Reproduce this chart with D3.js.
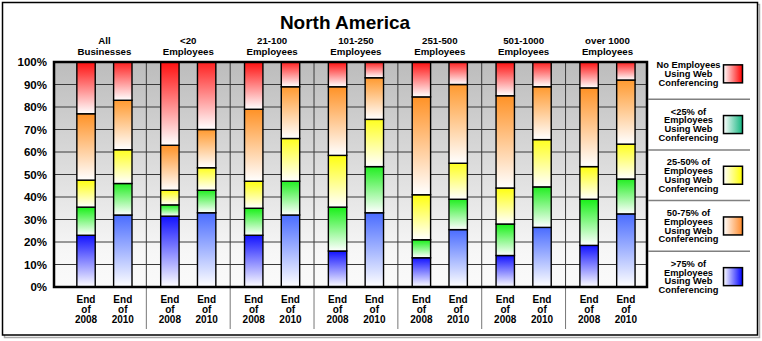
<!DOCTYPE html>
<html><head><meta charset="utf-8">
<script src="https://cdn.jsdelivr.net/npm/d3@7"></script>
<style>
html,body{margin:0;padding:0;background:#fff;}
svg text{font-family:Arial,"Liberation Sans",sans-serif;font-weight:bold;fill:#000;}
</style></head>
<body><svg id="c" width="762" height="341"></svg>
<script>
// ---- data ----
const categories = [["All","Businesses"],["<20","Employees"],["21-100","Employees"],["101-250","Employees"],["251-500","Employees"],["501-1000","Employees"],["over 1000","Employees"]];
const years = ["End of 2008","End of 2010"];
// values per bar, order: category0-2008, category0-2010, category1-2008, ...
const over75  = [23,32, 31.5,33, 23,32, 16,33, 13,25.5, 14,26.5, 18.5,32.5];
const lt25    = [12.5,14, 5,10, 12,15, 19.5,20.5, 8,13.5, 14,18, 20.5,15.5];
const p25to50 = [12,15, 6.5,10, 12,19, 23,21, 20,16, 16,21, 14.5,15.5];
const p50to75 = [29.5,22, 20,17, 32,23, 30.5,18.5, 43.5,35, 41,23.5, 35,28.5];
const noneUse = [23,17, 37,30, 21,11, 11,7, 15.5,10, 15,11, 11.5,8];
const yTicks = [0,10,20,30,40,50,60,70,80,90,100];
const legendLabels = [
  ["No Employees","Using Web","Conferencing"],
  ["<25% of","Employees","Using Web","Conferencing"],
  ["25-50% of","Employees","Using Web","Conferencing"],
  ["50-75% of","Employees","Using Web","Conferencing"],
  [">75% of","Employees","Using Web","Conferencing"]
];
const title = "North America";

// ---- build table ----
const keys = ["over75","lt25","p25to50","p50to75","noneUse"];
const seriesVals = {over75, lt25, p25to50, p50to75, noneUse};
const catKeys = categories.map(c => c.join(" "));
const rows = [];
catKeys.forEach((c, gi) => years.forEach((yr, yi) => {
  const r = {cat: c, year: yr, yi};
  keys.forEach(k => r[k] = seriesVals[k][gi*2+yi]);
  rows.push(r);
}));
const stacked = d3.stack().keys(keys)(rows);

// ---- styles ----
const barColors = {
  over75: ["#1212ff","#4a6cff"],
  lt25: ["#18f018","#22ee22"],
  p25to50: ["#ffff10","#ffff20"],
  p50to75: ["#ff9226","#ff9a30"],
  noneUse: ["#ff1010","#ff2020"]
};
const legendColors = ["#ff0000","#12b57f","#ffff00","#ff8a2a","#0000ff"];

const svg = d3.select("#c");
const defs = svg.append("defs");

// plot geometry
const L = 54, R = 647, T = 62, B = 287;
const x0 = d3.scaleBand().domain(catKeys).range([62.5, 649.4]).paddingInner(0).paddingOuter(0);
const x1 = d3.scaleBand().domain(years).range([0, x0.bandwidth()]).paddingInner(0.5).paddingOuter(0.39);
const y = d3.scaleLinear().domain([0,100]).range([B, T]);

// frame with shadow
svg.append("rect").attr("x",4.5).attr("y",4.5).attr("width",755).attr("height",333).attr("fill","none").attr("stroke","#aaa").attr("stroke-width",1.5);
svg.append("rect").attr("x",2.5).attr("y",2.5).attr("width",755).attr("height",332.5).attr("fill","#fff").attr("stroke","#000").attr("stroke-width",1.5);

// background gradient
const bg = defs.append("linearGradient").attr("id","bg").attr("x1",0).attr("y1",0).attr("x2",0).attr("y2",1);
bg.append("stop").attr("offset","0%").attr("stop-color","#bcbcbc");
bg.append("stop").attr("offset","85%").attr("stop-color","#f7f7f7");
bg.append("stop").attr("offset","100%").attr("stop-color","#fafafa");
svg.append("rect").attr("x",L).attr("y",T).attr("width",R-L).attr("height",B-T).attr("fill","url(#bg)");

// gradients for bars
keys.forEach(k => years.forEach((yr, yi) => {
  const g = defs.append("linearGradient").attr("id",`g-${k}-${yi}`).attr("x1",0).attr("y1",0).attr("x2",0).attr("y2",1);
  g.append("stop").attr("offset","0%").attr("stop-color",barColors[k][yi]);
  g.append("stop").attr("offset","100%").attr("stop-color","#ffffff");
}));
legendColors.forEach((c,i) => {
  const g = defs.append("linearGradient").attr("id",`lg-${i}`).attr("x1",0).attr("y1",0).attr("x2",1).attr("y2",0);
  g.append("stop").attr("offset","0%").attr("stop-color","#ffffff");
  g.append("stop").attr("offset","100%").attr("stop-color",c);
});

// horizontal gridlines
svg.append("g").selectAll("line").data(yTicks).join("line")
  .attr("x1",L).attr("x2",R).attr("y1",d=>y(d)).attr("y2",d=>y(d))
  .attr("stroke","#3a3a3a").attr("stroke-width",1);

// vertical separators between groups (inside plot + below axis)
const seps = catKeys.slice(1).map(c => x0(c));
svg.append("g").selectAll("line").data(seps).join("line")
  .attr("x1",d=>d).attr("x2",d=>d).attr("y1",T).attr("y2",B)
  .attr("stroke","#3a3a3a").attr("stroke-width",1);
svg.append("g").selectAll("line").data(seps).join("line")
  .attr("x1",d=>d).attr("x2",d=>d).attr("y1",B).attr("y2",329)
  .attr("stroke","#777").attr("stroke-width",1);

// bars
const barG = svg.append("g");
stacked.forEach(s => {
  barG.append("g").selectAll("rect").data(s).join("rect")
    .attr("x", d => x0(d.data.cat) + x1(d.data.year))
    .attr("width", x1.bandwidth())
    .attr("y", d => y(d[1]))
    .attr("height", d => y(d[0]) - y(d[1]))
    .attr("fill", d => `url(#g-${s.key}-${d.data.yi})`)
    .attr("stroke","#000").attr("stroke-width",1.4);
});

// plot border
svg.append("rect").attr("x",L).attr("y",T).attr("width",R-L).attr("height",B-T)
  .attr("fill","none").attr("stroke","#000").attr("stroke-width",2.5);

// y axis
const ya = svg.append("g").attr("transform",`translate(${L},0)`)
  .call(d3.axisLeft(y).tickValues(yTicks).tickFormat(d=>d+"%").tickSize(0).tickPadding(7));
ya.select(".domain").remove();
ya.selectAll("text").style("font-size","11.5px").style("font-family",'Arial,"Liberation Sans",sans-serif').style("font-weight","bold").attr("fill","#000");

// title
svg.append("text").attr("x",345).attr("y",29).attr("text-anchor","middle").style("font-size","19px").text(title);

// category headers
categories.forEach((lines, gi) => {
  const cx = x0(catKeys[gi]) + x0.bandwidth()/2;
  const t = svg.append("text").attr("text-anchor","middle").style("font-size","9.7px");
  lines.forEach((ln, li) => t.append("tspan").attr("x",cx).attr("y",43.5 + li*11).text(ln));
});

// x labels
rows.forEach(r => {
  const cx = x0(r.cat) + x1(r.year) + x1.bandwidth()/2;
  const t = svg.append("text").attr("text-anchor","middle").style("font-size","10px");
  r.year.split(" ").forEach((ln, li) => t.append("tspan").attr("x",cx).attr("y",303 + li*10).text(ln));
});

// legend
const ly = d3.scaleBand().domain(d3.range(legendLabels.length)).range([48.5, 302]);
const lg = svg.append("g");
d3.range(1, legendLabels.length).forEach(i => {
  lg.append("line").attr("x1",648).attr("x2",750).attr("y1",ly(i)).attr("y2",ly(i))
    .attr("stroke","#808080").attr("stroke-width",1.5);
});
legendLabels.forEach((lines, i) => {
  const cy = ly(i) + ly.bandwidth()/2;
  const lh = 8.8;
  const t = lg.append("text").attr("text-anchor","middle").style("font-size","9.3px");
  const startY = cy - (lines.length-1)*lh/2 + 3.3;
  lines.forEach((ln, li) => t.append("tspan").attr("x",688.5).attr("y",startY + li*lh).text(ln));
  lg.append("rect").attr("x",723.5).attr("y",cy-9).attr("width",19).attr("height",18)
    .attr("fill",`url(#lg-${i})`).attr("stroke","#000").attr("stroke-width",1.5);
});
</script></body></html>
